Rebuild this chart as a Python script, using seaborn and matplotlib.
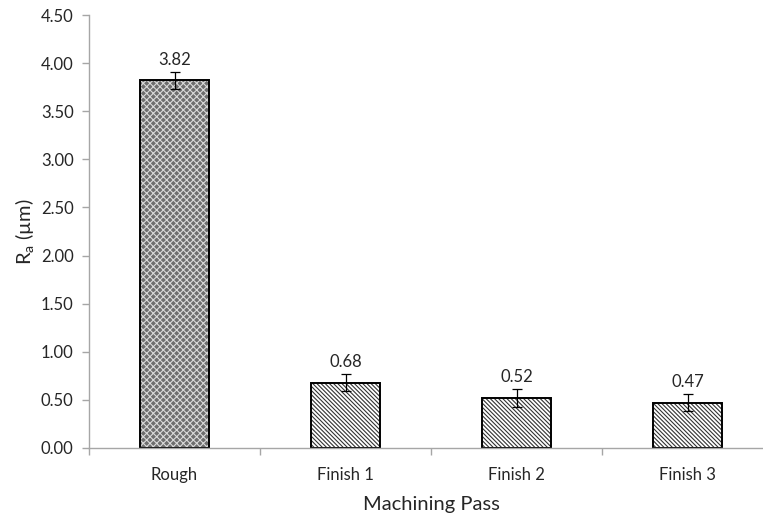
import matplotlib
matplotlib.use("Agg")
import matplotlib.pyplot as plt
import seaborn as sns
import pandas as pd

passes = ["Rough", "Finish 1", "Finish 2", "Finish 3"]
ra_mean = [3.82, 0.68, 0.52, 0.47]
ra_err = [0.09, 0.09, 0.09, 0.09]
y_ticks = [0.0, 0.5, 1.0, 1.5, 2.0, 2.5, 3.0, 3.5, 4.0, 4.5]

sns.set_theme(style="white")
plt.rcParams["font.family"] = ["Lato", "DejaVu Sans"]
plt.rcParams["hatch.linewidth"] = 0.8

df = pd.DataFrame({"pass": passes, "ra": ra_mean})

W, H = 763, 515
fig = plt.figure(figsize=(W / 100, H / 100), dpi=100)
left, right, bottom, top = 89, 773, 448, 15
ax = fig.add_axes([left / W, 1 - bottom / H, (right - left) / W, (bottom - top) / H])

sns.barplot(data=df, x="pass", y="ra", ax=ax, width=0.4, errorbar=None,
            color="white", edgecolor="black", linewidth=1.4, zorder=2)

for i, p in enumerate(ax.patches):
    if i == 0:
        p.set_facecolor("#6e6e6e")
        p.set_hatch("xxxxx")
        p._hatch_color = (0.85, 0.85, 0.85, 1.0)
    else:
        p.set_facecolor("white")
        p.set_hatch("\\\\\\\\\\\\\\\\")
        p._hatch_color = (0.2, 0.2, 0.2, 1.0)

ax.errorbar(range(len(passes)), ra_mean, yerr=ra_err, fmt="none",
            ecolor="black", elinewidth=0.9, capsize=3.5, capthick=0.9, zorder=3)

for i, v in enumerate(ra_mean):
    ax.text(i, v + ra_err[i] + 0.04, f"{v:.2f}", ha="center", va="bottom",
            fontsize=12, color="#262626")

ax.set_ylim(0, 4.5)
ax.set_xlim(-0.5, 3.5)
ax.set_yticks(y_ticks)
ax.set_yticklabels([f"{t:.2f}" for t in y_ticks])
ax.set_xticks(range(len(passes)))
ax.set_xticklabels(passes)
ax.set_xticks([-0.5, 0.5, 1.5, 2.5, 3.5], minor=True)

for s in ["top", "right"]:
    ax.spines[s].set_visible(False)
for s in ["left", "bottom"]:
    ax.spines[s].set_color("#a6a6a6")
    ax.spines[s].set_linewidth(1.0)

ax.tick_params(axis="y", which="major", direction="out", length=5, width=1,
               color="#a6a6a6", labelsize=12, labelcolor="#262626", pad=6, left=True)
ax.tick_params(axis="x", which="major", length=0, labelsize=12,
               labelcolor="#262626", pad=14)
ax.tick_params(axis="x", which="minor", direction="out", length=5, width=1,
               color="#a6a6a6", bottom=True)

ax.set_xlabel("Machining Pass", fontsize=14.5, color="#262626", labelpad=9)
ax.set_ylabel("R$_\\mathregular{a}$ (µm)", fontsize=14.5, color="#262626", labelpad=3)
ax.grid(False)

fig.savefig("out.png", dpi=100)
